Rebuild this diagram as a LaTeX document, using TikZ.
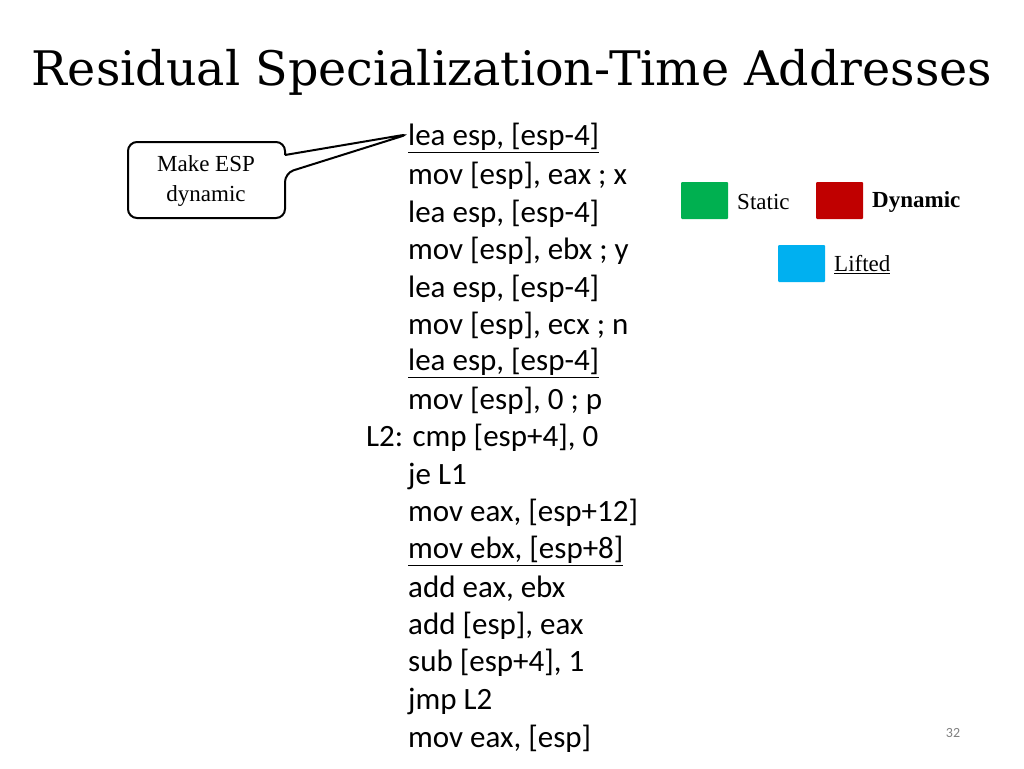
\documentclass[tikz,border=0pt]{standalone}
\usepackage{fontspec}
\setmainfont{Liberation Serif}
\newfontfamily\codefont{Carlito}
\newfontfamily\titlefont{DejaVu Serif}
\tikzset{
  code/.style={anchor=west,inner sep=0pt,font=\codefont\fontsize{31}{31}\selectfont},
  legendtext/.style={anchor=west,inner sep=0pt,font=\fontsize{23}{23}\selectfont},
  swatch/.style={rounded corners=1pt,minimum width=47pt,minimum height=37pt,inner sep=0pt}
}
\definecolor{stgreen}{RGB}{0,176,80}
\definecolor{dyred}{RGB}{192,0,0}
\definecolor{lfblue}{RGB}{0,176,240}
\begin{document}
\begin{tikzpicture}[x=1pt,y=-1pt]
    \useasboundingbox (0,0) rectangle (1024,768);

    % title
    \node[inner sep=0pt] (title) at (512,72) {\resizebox{960pt}{!}{\titlefont\fontsize{44}{44}\selectfont Residual Specialization-Time Addresses}};

    % code listing
    \node[code] (c1) at (408,138) {\underline{lea esp, [esp-4]}};
    \node[code] (c2) at (408,176) {mov [esp], eax ; x};
    \node[code] (c3) at (408,214) {lea esp, [esp-4]};
    \node[code] (c4) at (408,251) {mov [esp], ebx ; y};
    \node[code] (c5) at (408,289) {lea esp, [esp-4]};
    \node[code] (c6) at (408,326) {mov [esp], ecx ; n};
    \node[code] (c7) at (408,363) {\underline{lea esp, [esp-4]}};
    \node[code] (c8) at (408,401) {mov [esp], 0 ; p};
    \node[code] (c9) at (366,438) {L2: cmp [esp+4], 0};
    \node[code] (c10) at (408,476) {je L1};
    \node[code] (c11) at (408,513) {mov eax, [esp+12]};
    \node[code] (c12) at (408,551) {\underline{mov ebx, [esp+8]}};
    \node[code] (c13) at (408,589) {add eax, ebx};
    \node[code] (c14) at (408,626) {add [esp], eax};
    \node[code] (c15) at (408,663) {sub [esp+4], 1};
    \node[code] (c16) at (408,701) {jmp L2};
    \node[code] (c17) at (408,739) {mov eax, [esp]};

    % callout
    \coordinate (tip) at (409,134);
    \draw[line width=2pt,rounded corners=9pt] (285,155) -- (tip) -- (285,173)
        [rounded corners=9pt] -- (285,218) -- (128,218) -- (128,142) -- (285,142) -- (285,155);
    \node[align=center,font=\fontsize{23}{30}\selectfont] (callout) at (206,181) {Make ESP\\dynamic};

    % legend
    \node[swatch,fill=stgreen] (sw1) at (704.5,200.5) {};
    \node[legendtext] (l1) at (737,202) {Static};
    \node[swatch,fill=dyred] (sw2) at (839.5,200.5) {};
    \node[legendtext,font=\fontsize{23}{23}\selectfont\bfseries] (l2) at (872,202) {Dynamic};
    \node[swatch,fill=lfblue] (sw3) at (801.5,263.5) {};
    \node[legendtext] (l3) at (834,265) {\underline{Lifted}};

    % page number
    \node[text=gray,font=\codefont\fontsize{14}{14}\selectfont] (page) at (953,733) {32};
\end{tikzpicture}
\end{document}
